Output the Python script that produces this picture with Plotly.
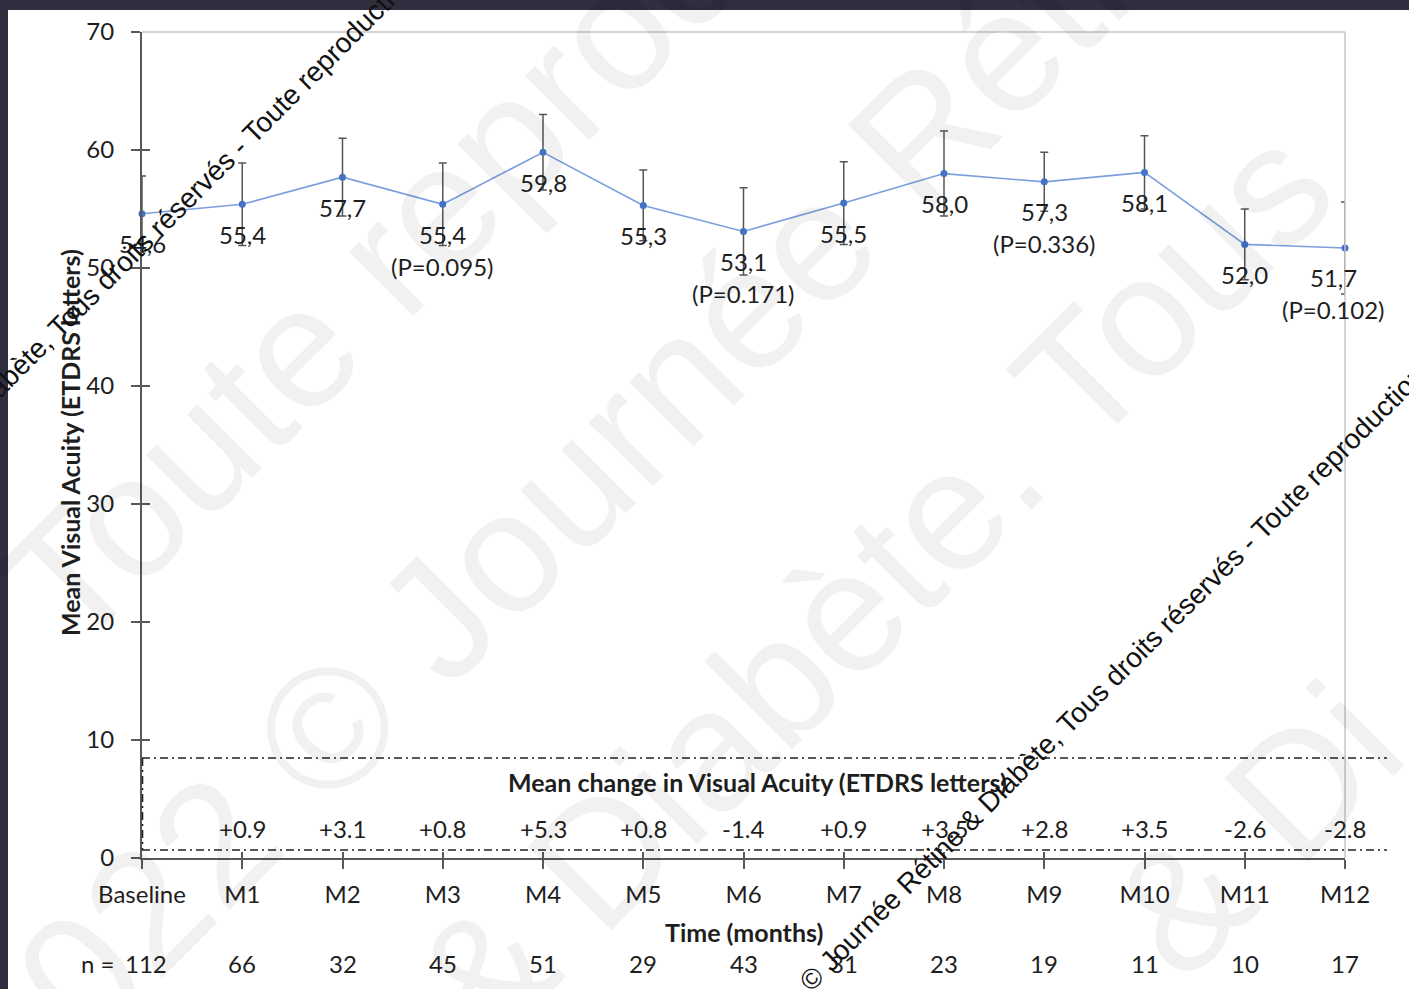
import plotly.graph_objects as go

# ---------------- data ----------------
months = ["Baseline", "M1", "M2", "M3", "M4", "M5", "M6", "M7", "M8", "M9", "M10", "M11", "M12"]
mean_va = [54.6, 55.4, 57.7, 55.4, 59.8, 55.3, 53.1, 55.5, 58.0, 57.3, 58.1, 52.0, 51.7]
va_err = [3.2, 3.5, 3.3, 3.5, 3.2, 3.0, 3.7, 3.5, 3.6, 2.5, 3.1, 3.0, 3.9]
p_values = [None, None, None, "0.095", None, None, "0.171", None, None, "0.336", None, None, "0.102"]
mean_change = [0.9, 3.1, 0.8, 5.3, 0.8, -1.4, 0.9, 3.5, 2.8, 3.5, -2.6, -2.8]  # M1..M12
n_patients = [112, 66, 32, 45, 51, 29, 43, 31, 23, 19, 11, 10, 17]
y_ticks = [0, 10, 20, 30, 40, 50, 60, 70]

# ---------------- layout helpers ----------------
W_FIG, H_FIG = 1409, 989
L, R, T, B = 142, 1345, 32, 858
PW, PH = R - L, B - T


def px(x):
    return (x - L) / PW


def py(y):
    return (B - y) / PH


FONT = "Lato"
TXT = "#1e1e1e"
AX = "#595959"
FS = 24


def ann(**kw):
    d = dict(showarrow=False, xanchor="center", yanchor="middle")
    d.update(kw)
    return d


xi = list(range(len(months)))

fig = go.Figure()
fig.add_trace(go.Scatter(
    x=xi, y=mean_va, mode="lines+markers",
    line=dict(color="#7b9fde", width=1.6),
    marker=dict(color="#4472c4", size=7),
    error_y=dict(type="data", array=va_err, visible=True,
                 color="#555555", thickness=1.5, width=4),
    cliponaxis=False, showlegend=False, hoverinfo="skip",
))
# dummy trace so the overlay axes (inside ticks) get drawn
fig.add_trace(go.Scatter(x=[0], y=[0], xaxis="x2", yaxis="y2", mode="markers",
                         marker=dict(opacity=0), showlegend=False, hoverinfo="skip"))

annotations = []
# faint large background watermark
faint = dict(size=172, color="rgba(0,0,0,0.055)", family="Liberation Sans")
for txt, cx, cy in [("Toute reproduction", 535, 110),
                    ("2022 © Journée Rétine", 604, 451),
                    ("& Diabète. Tous", 872, 585),
                    ("& Di", 1255, 830)]:
    annotations.append(ann(x=px(cx), y=py(cy), xref="paper", yref="paper", text=txt,
                           textangle=-45, font=faint))

lab_font = dict(size=FS, color=TXT, family=FONT)
# data labels + p-values
for i, v in enumerate(mean_va):
    xs = -12 if i == len(mean_va) - 1 else 0
    annotations.append(ann(x=i, y=v, xref="x", yref="y", text=f"{v:.1f}".replace(".", ","),
                           yshift=-30, xshift=xs, font=lab_font))
    if p_values[i]:
        annotations.append(ann(x=i, y=v, xref="x", yref="y", text=f"(P={p_values[i]})",
                               yshift=-62, xshift=xs, font=lab_font))
# mean change row
for i, c in enumerate(mean_change, start=1):
    annotations.append(ann(x=i, y=py(828), xref="x", yref="paper", text=f"{c:+.1f}",
                           font=lab_font))
# n row
annotations.append(ann(x=px(97), y=py(963), xref="paper", yref="paper", text="n =",
                       font=lab_font))
for i, n in enumerate(n_patients):
    annotations.append(ann(x=i, y=py(963), xref="x", yref="paper", text=str(n),
                           xshift=4 if i == 0 else 0, font=lab_font))
# titles
title_font = dict(size=25, color=TXT, family=FONT)
annotations.append(ann(x=px(757), y=py(782), xref="paper", yref="paper",
                       text="<b>Mean change in Visual Acuity (ETDRS letters)</b>", font=title_font))
annotations.append(ann(x=px(744), y=py(932), xref="paper", yref="paper",
                       text="<b>Time (months)</b>", font=title_font))
annotations.append(ann(x=px(70), y=py(443), xref="paper", yref="paper",
                       text="<b>Mean Visual Acuity (ETDRS letters)</b>", textangle=-90,
                       font=title_font))
# watermark lines
wm = "© Journée Rétine & Diabète, Tous droits réservés - Toute reproduction interdite"
for cx, cy in [(141, 244), (1150, 640)]:
    annotations.append(ann(x=px(cx), y=py(cy), xref="paper", yref="paper", text=wm,
                           textangle=-45,
                           font=dict(size=28, color="#111111", family="Liberation Sans")))

shapes = []
# light plot border (top, right)
shapes.append(dict(type="line", xref="paper", yref="paper", x0=0, x1=1, y0=1, y1=1,
                   line=dict(color="#c4c4c4", width=1.5)))
shapes.append(dict(type="line", xref="paper", yref="paper", x0=1, x1=1, y0=0, y1=1,
                   line=dict(color="#c4c4c4", width=1.5)))
# dash-dot box for mean change
dd = dict(color="#222222", width=1.6, dash="8px,4px,2px,4px")
shapes.append(dict(type="line", xref="paper", yref="paper", x0=px(142), x1=px(1387),
                   y0=py(758), y1=py(758), line=dd))
shapes.append(dict(type="line", xref="paper", yref="paper", x0=px(142), x1=px(1387),
                   y0=py(850), y1=py(850), line=dd))
shapes.append(dict(type="line", xref="paper", yref="paper", x0=px(142.5), x1=px(142.5),
                   y0=py(758), y1=py(850), line=dd))
# dark frame
shapes.append(dict(type="rect", xref="paper", yref="paper", x0=px(0), x1=px(W_FIG),
                   y0=py(10), y1=py(0), fillcolor="#2f2d3e", line=dict(width=0)))
shapes.append(dict(type="rect", xref="paper", yref="paper", x0=px(0), x1=px(8),
                   y0=py(H_FIG), y1=py(0), fillcolor="#2f2d3e", line=dict(width=0)))

axis_common = dict(showgrid=False, zeroline=False, showline=True, linecolor=AX, linewidth=2,
                   ticks="outside", ticklen=9, tickwidth=1.5, tickcolor=AX,
                   tickfont=dict(size=FS, color=TXT, family=FONT))

fig.update_layout(
    width=W_FIG, height=H_FIG,
    margin=dict(l=L, r=W_FIG - R, t=T, b=H_FIG - B),
    paper_bgcolor="white", plot_bgcolor="white",
    font=dict(family=FONT, color=TXT),
    xaxis=dict(range=[0, 12], tickvals=xi, ticktext=months, ticklabelstandoff=5, **axis_common),
    yaxis=dict(range=[0, 70], tickvals=y_ticks, ticklabelstandoff=12, **axis_common),
    xaxis2=dict(overlaying="x", range=[0, 12], tickvals=xi, ticks="inside", ticklen=6,
                tickwidth=1.5, tickcolor=AX, showticklabels=False, showline=False,
                showgrid=False, zeroline=False),
    yaxis2=dict(overlaying="y", range=[0, 70], tickvals=y_ticks, ticks="inside", ticklen=8,
                tickwidth=1.5, tickcolor=AX, showticklabels=False, showline=False,
                showgrid=False, zeroline=False, side="left"),
    annotations=annotations, shapes=shapes,
    showlegend=False,
)

fig.write_html("out.html")
